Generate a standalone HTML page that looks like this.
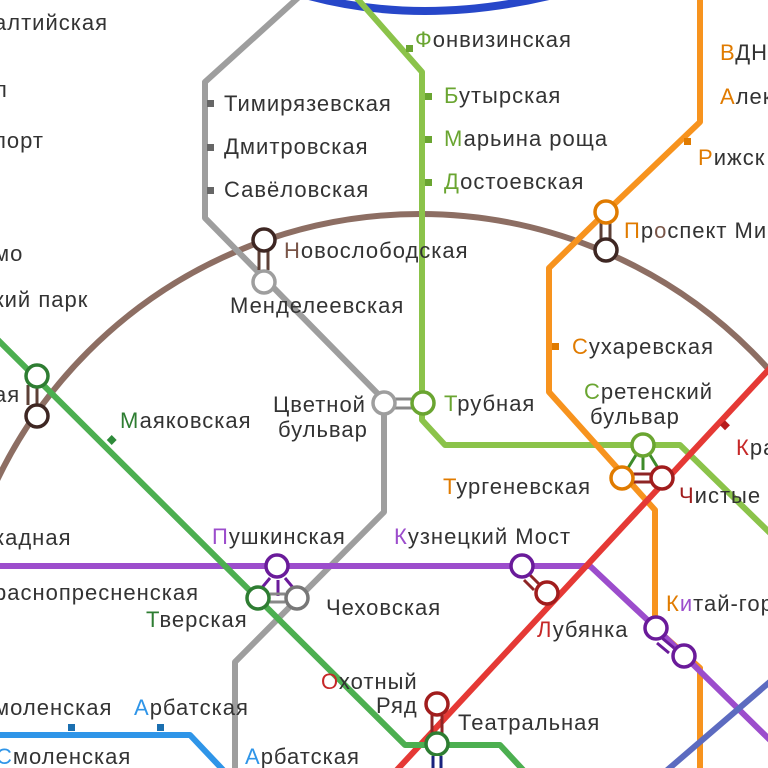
<!DOCTYPE html><html><head><meta charset="utf-8"><style>
html,body{margin:0;padding:0;background:#fff;width:768px;height:768px;overflow:hidden}
svg{display:block}
text{font-family:"Liberation Sans",sans-serif;font-size:22px;letter-spacing:1px;fill:#333}
</style></head><body>
<svg width="768" height="768" viewBox="0 0 768 768" xmlns="http://www.w3.org/2000/svg">
<g fill="none" stroke-linejoin="round" stroke-width="6">
<path d="M295,-8 Q420,30 565,-8" stroke="#2747c9" stroke-width="8"/>
<circle cx="420" cy="683" r="469" stroke="#8d6e63"/>
<path d="M300,-4 L205,82 L205,218 L384,400 L384,512 L235,662 L235,772" stroke="#9e9e9e"/>
<path d="M355,-4 L422,72 L422,420 L445,445 L680,445 L772,535" stroke="#8bc34a"/>
<path d="M700,-4 L700,122 L606,212 L549,268 L549,392 L655,510 L655,628 L700,668 L700,772" stroke="#f7931e"/>
<path d="M-4,566 L590,566 L656,628 L772,742" stroke="#9c4dcc"/>
<path d="M772,366 L395,772" stroke="#e53935"/>
<path d="M-4,338 L405,745 L500,745 L525,772" stroke="#4caf50"/>
<path d="M-4,735 L190,735 L225,772" stroke="#2f95e8"/>
<path d="M772,680 L665,772" stroke="#5c6bc0"/>
</g>
<g fill="#666">
<rect x="207" y="100" width="7" height="7"/><rect x="207" y="144" width="7" height="7"/><rect x="207" y="187" width="7" height="7"/>
</g>
<g fill="#6aa531">
<rect x="406" y="45" width="7" height="7"/><rect x="425" y="93" width="7" height="7"/><rect x="425" y="136" width="7" height="7"/><rect x="425" y="179" width="7" height="7"/>
</g>
<rect x="684" y="138" width="7" height="7" fill="#e07b00"/>
<rect x="552" y="343" width="7" height="7" fill="#e07b00"/>
<rect x="108" y="436" width="7" height="7" fill="#2e8b3a" transform="rotate(45 111 440)"/>
<rect x="721" y="422" width="7" height="7" fill="#b71c1c" transform="rotate(45 725 426)"/>
<rect x="68" y="724" width="7" height="7" fill="#1b6fb0"/><rect x="157" y="724" width="7" height="7" fill="#1b6fb0"/>
<g stroke-width="3" fill="none">
<path d="M259,250 L259,270 M268,250 L268,270" stroke="#5d4037"/>
<path d="M28,385 L28,405 M37,385 L37,405" stroke="#5d4037"/>
<path d="M601,222 L601,240 M610,222 L610,240" stroke="#5d4037"/>
<path d="M395,399 L412,399 M395,408 L412,408" stroke="#888"/>
<path d="M270,578 L260,590 M278,580 L278,596 M285,578 L295,590" stroke="#6a1b9a"/>
<path d="M270,594 L285,594 M270,602 L285,602" stroke="#888"/>
<path d="M530,575 L540,585 M524,580 L534,590" stroke="#8e2525"/>
<path d="M432,714 L432,734 M442,714 L442,734" stroke="#8e2525"/>
<path d="M636,455 L628,468 M643,456 L643,470 M650,455 L658,468" stroke="#3d8b2a"/>
<path d="M632,474 L652,474 M632,482 L652,482" stroke="#8e2525"/>
<path d="M662,638 L674,648 M657,643 L669,653" stroke="#6a1b9a"/>
</g>
<g fill="#fff" stroke-width="3.5">
<circle cx="264" cy="240" r="11" stroke="#3e2723"/>
<circle cx="264" cy="282" r="11" stroke="#9e9e9e"/>
<circle cx="37" cy="376" r="11" stroke="#2e7d32"/>
<circle cx="37" cy="416" r="11" stroke="#3e2723"/>
<circle cx="606" cy="212" r="11" stroke="#e07b00"/>
<circle cx="606" cy="250" r="11" stroke="#3e2723"/>
<circle cx="384" cy="403" r="11" stroke="#9e9e9e"/>
<circle cx="423" cy="403" r="11" stroke="#6aa531"/>
<circle cx="643" cy="445" r="11" stroke="#6aa531"/>
<circle cx="622" cy="478" r="11" stroke="#e07b00"/>
<circle cx="662" cy="478" r="11" stroke="#a11d1d"/>
<circle cx="277" cy="566" r="11" stroke="#6a1b9a"/>
<circle cx="258" cy="598" r="11" stroke="#2e7d32"/>
<circle cx="297" cy="598" r="11" stroke="#777"/>
<circle cx="522" cy="566" r="11" stroke="#6a1b9a"/>
<circle cx="547" cy="593" r="11" stroke="#a11d1d"/>
<circle cx="656" cy="628" r="11" stroke="#6a1b9a"/>
<circle cx="684" cy="656" r="11" stroke="#6a1b9a"/>
<circle cx="437" cy="704" r="11" stroke="#a11d1d"/>
<circle cx="437" cy="744" r="11" stroke="#2e7d32"/>
</g>
<rect x="430" y="756" width="14" height="14" fill="#fff"/>
<path d="M433,756 L433,768 M441,756 L441,768" stroke="#1a237e" stroke-width="3"/>
<text x="-6" y="30">алтийская</text>
<text x="-6" y="97">л</text>
<text x="-6" y="148">порт</text>
<text x="-6" y="261">мо</text>
<text x="-6" y="307">кий парк</text>
<text x="-6" y="402">ая</text>
<text x="-6" y="545">кадная</text>
<text x="-6" y="600">раснопресненская</text>
<text x="-6" y="715">моленская</text>
<text x="-4" y="764"><tspan fill="#2f95e8">С</tspan>моленская</text>
<text x="134" y="715"><tspan fill="#2f95e8">А</tspan>рбатская</text>
<text x="245" y="764"><tspan fill="#2f95e8">А</tspan>рбатская</text>
<text x="224" y="111">Тимирязевская</text>
<text x="224" y="154">Дмитровская</text>
<text x="224" y="197">Савёловская</text>
<text x="284" y="258"><tspan fill="#795548">Н</tspan>овослободская</text>
<text x="230" y="313">Менделеевская</text>
<text x="415" y="47"><tspan fill="#6aa531">Ф</tspan>онвизинская</text>
<text x="444" y="103"><tspan fill="#6aa531">Б</tspan>утырская</text>
<text x="444" y="146"><tspan fill="#6aa531">М</tspan>арьина роща</text>
<text x="444" y="189"><tspan fill="#6aa531">Д</tspan>остоевская</text>
<text x="720" y="60"><tspan fill="#e07b00">В</tspan>ДН</text>
<text x="720" y="104"><tspan fill="#e07b00">А</tspan>лек</text>
<text x="698" y="165"><tspan fill="#e07b00">Р</tspan>ижск</text>
<text x="624" y="238"><tspan fill="#e07b00">П</tspan>р<tspan fill="#795548">о</tspan>спект Ми</text>
<text x="572" y="354"><tspan fill="#e07b00">С</tspan>ухаревская</text>
<text x="584" y="399"><tspan fill="#6aa531">С</tspan>ретенский</text>
<text x="590" y="424">бульвар</text>
<text x="736" y="455"><tspan fill="#c62828">К</tspan>ра</text>
<text x="443" y="494"><tspan fill="#e07b00">Т</tspan>ургеневская</text>
<text x="679" y="503"><tspan fill="#a11d1d">Ч</tspan>истые</text>
<text x="120" y="428"><tspan fill="#2e7d32">М</tspan>аяковская</text>
<text x="273" y="412">Цветной</text>
<text x="278" y="437">бульвар</text>
<text x="444" y="411"><tspan fill="#6aa531">Т</tspan>рубная</text>
<text x="212" y="544"><tspan fill="#9c4dcc">П</tspan>ушкинская</text>
<text x="394" y="544"><tspan fill="#9c4dcc">К</tspan>узнецкий Мост</text>
<text x="146" y="627"><tspan fill="#2e7d32">Т</tspan>верская</text>
<text x="326" y="615">Чеховская</text>
<text x="537" y="637"><tspan fill="#c62828">Л</tspan>убянка</text>
<text x="666" y="611"><tspan fill="#e07b00">К</tspan><tspan fill="#9c4dcc">и</tspan>тай-гор</text>
<text x="321" y="689"><tspan fill="#c62828">О</tspan>хотный</text>
<text x="376" y="713">Ряд</text>
<text x="458" y="730">Театральная</text>
</svg>
</body></html>
